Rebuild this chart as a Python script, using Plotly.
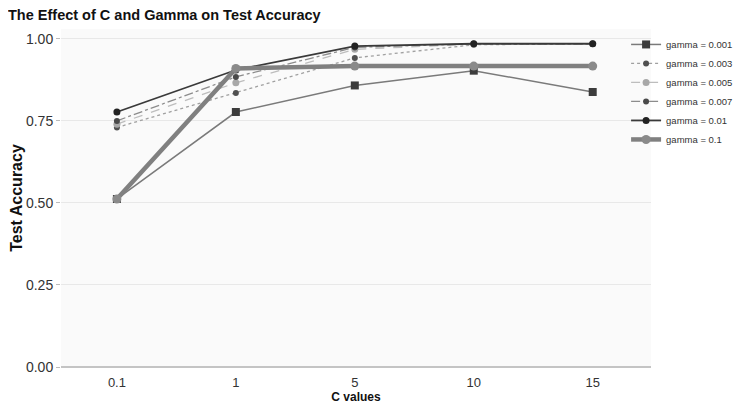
import plotly.graph_objects as go

c_values = ["0.1", "1", "5", "10", "15"]
gamma_labels = ["gamma = 0.001", "gamma = 0.003", "gamma = 0.005",
                "gamma = 0.007", "gamma = 0.01", "gamma = 0.1"]
acc_0001 = [0.512, 0.777, 0.858, 0.903, 0.838]
acc_0003 = [0.730, 0.835, 0.942, 0.982, 0.985]
acc_0005 = [0.740, 0.866, 0.968, 0.984, 0.985]
acc_0007 = [0.750, 0.884, 0.974, 0.985, 0.985]
acc_001 = [0.777, 0.905, 0.978, 0.985, 0.985]
acc_01 = [0.512, 0.910, 0.917, 0.917, 0.917]

series = [acc_0001, acc_0003, acc_0005, acc_0007, acc_001, acc_01]
styles = [
    dict(line=dict(color="#7a7a7a", width=1.5, dash="solid"), marker=dict(color="#3c3c3c", size=8, symbol="square")),
    dict(line=dict(color="#a0a0a0", width=1.3, dash="dot"), marker=dict(color="#505050", size=6, symbol="circle")),
    dict(line=dict(color="#bdbdbd", width=1.3, dash="dash"), marker=dict(color="#a8a8a8", size=7, symbol="circle")),
    dict(line=dict(color="#8c8c8c", width=1.3, dash="dashdot"), marker=dict(color="#4a4a4a", size=6, symbol="circle")),
    dict(line=dict(color="#3a3a3a", width=1.8, dash="solid"), marker=dict(color="#222222", size=7, symbol="circle")),
    dict(line=dict(color="#808080", width=4.5, dash="solid"), marker=dict(color="#8a8a8a", size=9, symbol="circle")),
]

fig = go.Figure()
for name, vals, st in zip(gamma_labels, series, styles):
    fig.add_trace(go.Scatter(x=c_values, y=vals, name=name, mode="lines+markers",
                             line=st["line"], marker=st["marker"]))

# page body has an 8px margin; figure is sized so it fits the 750x407 window
fig.update_layout(
    width=742, height=399,
    margin=dict(l=53, r=99, t=21, b=40, autoexpand=False),
    paper_bgcolor="white",
    plot_bgcolor="#fafafa",
    font=dict(family="Liberation Sans, Arial, sans-serif", color="#222"),
    title=dict(text="<b>The Effect of C and Gamma on Test Accuracy</b>",
               x=0.0, xanchor="left", xref="container", y=1.0, yanchor="top",
               pad=dict(t=2, l=0), font=dict(size=14.5, color="#111")),
    legend=dict(xref="container", yref="container", x=0.833, xanchor="left",
                y=0.945, yanchor="top",
                font=dict(size=9.5, color="#333"), tracegroupgap=0,
                itemwidth=30, bgcolor="rgba(0,0,0,0)"),
    showlegend=True,
)
fig.update_xaxes(type="category", range=[-0.47, 4.49], showgrid=False, automargin=False,
                 tickfont=dict(size=13, color="#333"), ticks="outside", ticklen=3,
                 tickcolor="rgba(0,0,0,0)",
                 title=dict(text="<b>C values</b>", font=dict(size=12, color="#111"), standoff=0),
                 zeroline=False, showline=False)
fig.update_yaxes(range=[0, 1.03], tickvals=[0, 0.25, 0.5, 0.75, 1.0], automargin=False,
                 ticktext=["0.00", "0.25", "0.50", "0.75", "1.00"],
                 tickfont=dict(size=14, color="#333"), gridcolor="#e8e8e8", gridwidth=1,
                 ticks="outside", ticklen=4, tickcolor="#bbb",
                 zeroline=True, zerolinecolor="#c4c4c4", zerolinewidth=1.5,
                 title=dict(text="<b>Test Accuracy</b>", font=dict(size=16, color="#111"), standoff=3))

fig.write_html("out.html")
